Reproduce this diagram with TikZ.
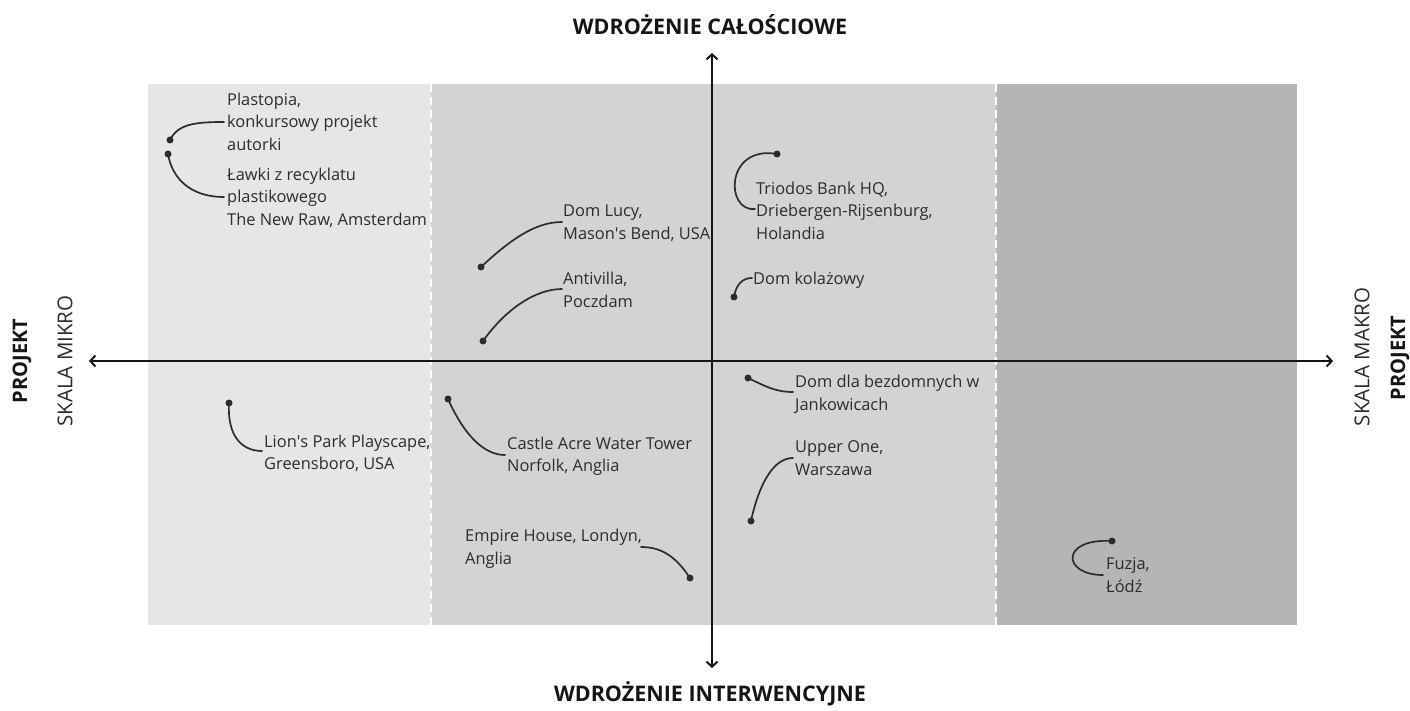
\documentclass[tikz,border=0pt]{standalone}
\usepackage{fontspec}
\setmainfont{Open Sans}
\usetikzlibrary{arrows.meta}

\definecolor{zonemicro}{HTML}{E6E6E6}
\definecolor{zonemid}{HTML}{D3D3D3}
\definecolor{zonemacro}{HTML}{B5B5B5}
\definecolor{ink}{HTML}{2C2C2C}
\definecolor{axisink}{HTML}{151515}

\tikzset{
  zone/.style={draw=none},
  divider/.style={draw=white, line width=2pt, dash pattern=on 8pt off 5pt},
  axis/.style={draw=axisink, line width=2.2pt, arrows={Straight Barb[length=5pt,width=11pt,line width=2pt]-Straight Barb[length=5pt,width=11pt,line width=2pt]}},
  axistitle/.style={font={\fontsize{21.5}{24}\selectfont\bfseries}, text=axisink, inner sep=0pt},
  sidetitle/.style={font={\fontsize{20}{24}\selectfont\bfseries}, text=axisink, inner sep=0pt, rotate=90},
  sidescale/.style={font={\fontsize{20.5}{24}\selectfont}, text=ink, inner sep=0pt, rotate=90},
  lbl/.style={font={\fontsize{16.4}{22.7}\selectfont}, text=ink, align=left, inner sep=0pt, anchor=north west},
  pin/.style={circle, fill=ink, inner sep=0pt, minimum size=7pt},
  lead/.style={draw=ink, line width=1.7pt, line cap=round},
}
\newcommand{\apos}{\textquotesingle}

\begin{document}
\begin{tikzpicture}[x=1pt,y=-1pt]
\useasboundingbox (0,0) rectangle (1410,711);
\fill[white] (0,0) rectangle (1410,711);

% three scale zones
\fill[zonemicro] (148,84) rectangle (431,625);
\fill[zonemid] (431,84) rectangle (996,625);
\fill[zonemacro] (996,84) rectangle (1297,625);
\draw[divider] (431,84) -- (431,625);
\draw[divider] (996,84) -- (996,625);

% axes
\coordinate (top) at (712,53);
\coordinate (bottom) at (712,668);
\coordinate (left) at (89,361);
\coordinate (right) at (1333,361);
\draw[axis] (bottom) -- (top);
\draw[axis] (left) -- (right);

% axis titles
\node[axistitle] (ttop) at (710,25) {WDROŻENIE CAŁOŚCIOWE};
\node[axistitle] (tbottom) at (710,694) {WDROŻENIE INTERWENCYJNE};
\node[sidetitle] (projL) at (22,361) {PROJEKT};
\node[sidescale] (microL) at (65,361) {SKALA MIKRO};
\node[sidescale] (macroR) at (1362,357) {SKALA MAKRO};
\node[sidetitle] (projR) at (1400,358) {PROJEKT};

% projects: text blocks (top = first line centre - 11)
\node[lbl] (plastopia) at (227,89) {\strut Plastopia,\\konkursowy projekt\\autorki};
\node[lbl] (lawki) at (227,164) {\strut Ławki z recyklatu\\plastikowego\\The New Raw, Amsterdam};
\node[lbl] (lucy) at (563,200.5) {\strut Dom Lucy,\\Mason\apos s Bend, USA};
\node[lbl] (antivilla) at (563,268.5) {\strut Antivilla,\\Poczdam};
\node[lbl] (triodos) at (756,178) {\strut Triodos Bank HQ,\\Driebergen-Rijsenburg,\\Holandia};
\node[lbl] (kolaz) at (753,268.5) {\strut Dom kolażowy};
\node[lbl] (bezdom) at (795,371.5) {\strut Dom dla bezdomnych w\\Jankowicach};
\node[lbl] (upper) at (795,436.5) {\strut Upper One,\\Warszawa};
\node[lbl] (lions) at (264,431) {\strut Lion\apos s Park Playscape,\\Greensboro, USA};
\node[lbl] (castle) at (507,433) {\strut Castle Acre Water Tower\\Norfolk, Anglia};
\node[lbl] (empire) at (465,525.5) {\strut Empire House, Londyn,\\Anglia};
\node[lbl] (fuzja) at (1106,553.5) {\strut Fuzja,\\Łódź};

% project positions
\node[pin] (pPlastopia) at (170,140) {};
\node[pin] (pLawki) at (168,154) {};
\node[pin] (pLucy) at (481,267) {};
\node[pin] (pAntivilla) at (483,341) {};
\node[pin] (pTriodos) at (777,154) {};
\node[pin] (pKolaz) at (734,297) {};
\node[pin] (pBezdom) at (748,378) {};
\node[pin] (pUpper) at (751,521) {};
\node[pin] (pLions) at (229,403) {};
\node[pin] (pCastle) at (448,399) {};
\node[pin] (pEmpire) at (690,578) {};
\node[pin] (pFuzja) at (1112,541) {};

% leader ends at the text
\coordinate (ePlastopia) at (224,122);
\coordinate (eLawki) at (224,197);
\coordinate (eLucy) at (562,222);
\coordinate (eAntivilla) at (562,289);
\coordinate (eTriodos) at (755,209);
\coordinate (eKolaz) at (752,278);
\coordinate (eBezdom) at (793,392);
\coordinate (eUpper) at (793,458);
\coordinate (eLions) at (262,451);
\coordinate (eCastle) at (505,455);
\coordinate (eEmpire) at (641,547);
\coordinate (eFuzja) at (1103,575);

% leader lines
\draw[lead] (pPlastopia.center) .. controls (178,124) and (195,122) .. (ePlastopia);
\draw[lead] (pLawki.center) .. controls (172,178) and (190,197) .. (eLawki);
\draw[lead] (pLucy.center) .. controls (510,240) and (535,222) .. (eLucy);
\draw[lead] (pAntivilla.center) .. controls (505,310) and (535,289) .. (eAntivilla);
\draw[lead] (pTriodos.center) .. controls (725,145) and (725,212) .. (eTriodos);
\draw[lead] (pKolaz.center) .. controls (736,285) and (742,278) .. (eKolaz);
\draw[lead] (pBezdom.center) .. controls (765,386) and (775,392) .. (eBezdom);
\draw[lead] (pUpper.center) .. controls (760,480) and (775,458) .. (eUpper);
\draw[lead] (pLions.center) .. controls (227,440) and (245,451) .. (eLions);
\draw[lead] (pCastle.center) .. controls (465,437) and (485,455) .. (eCastle);
\draw[lead] (pEmpire.center) .. controls (675,555) and (660,547) .. (eEmpire);
\draw[lead] (pFuzja.center) .. controls (1060,538) and (1062,575) .. (eFuzja);
\end{tikzpicture}
\end{document}
